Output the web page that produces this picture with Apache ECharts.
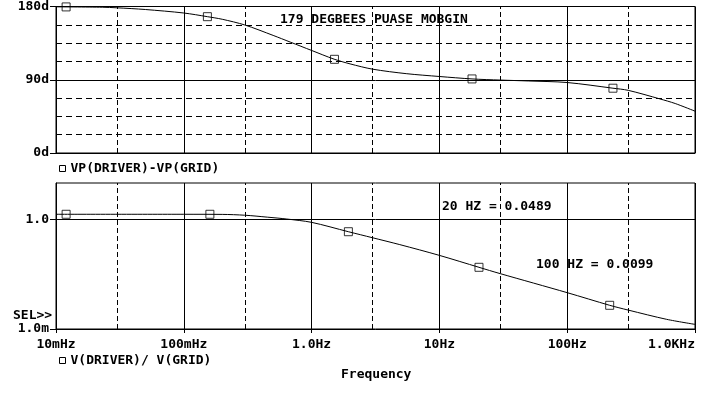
<!DOCTYPE html>
<html>
<head>
<meta charset="utf-8">
<script src="https://cdn.jsdelivr.net/npm/echarts@6/dist/echarts.min.js"></script>
<style>html,body{margin:0;padding:0;background:#fff;}#c{width:708px;height:394px;}</style>
</head>
<body>
<div id="c"></div>
<script>
// ---- data ----
var phaseFreq = [0.01, 0.023, 0.03, 0.05, 0.1, 0.153, 0.2, 0.3, 0.5, 0.68, 1.0, 1.5, 2.0, 3.0, 5.5, 10, 18, 30, 50, 100, 228, 300, 530, 700, 1000];
var phaseDeg  = [179.6, 179.1, 178.4, 176.3, 172.0, 167.5, 164.3, 157.3, 144.5, 136.3, 126.0, 115.3, 109.5, 103.0, 97.5, 94.0, 91.0, 89.6, 88.5, 86.6, 79.6, 77.0, 66.5, 60.8, 51.4];
var phaseMarkFreq = [0.012, 0.153, 1.51, 18, 228];
var phaseMarkDeg  = [179.5, 167.5, 115.1, 91.0, 79.6];

var gainFreq = [0.01, 0.1, 0.2, 0.3, 0.45, 0.64, 1.0, 1.94, 2.98, 4.9, 10, 20.4, 29.8, 100, 215, 300, 600, 1000];
var gainVal  = [1.39, 1.39, 1.38, 1.31, 1.16, 1.03, 0.835, 0.463, 0.318, 0.205, 0.104, 0.049, 0.033, 0.0099, 0.00446, 0.0033, 0.00184, 0.00134];
var gainMarkFreq = [0.012, 0.16, 1.94, 20.4, 215];
var gainMarkVal  = [1.39, 1.39, 0.463, 0.049, 0.00446];

var xTickLabels = ['10mHz', '100mHz', '1.0Hz', '10Hz', '100Hz', '1.0KHz'];
var xDashedAt = [0.03, 0.3, 3, 30, 300];
var phaseTickValues = [0, 90, 180];
var phaseTickLabels = ['0d', '90d', '180d'];
var gainTickValues = [0.001, 1];
var gainTickLabels = ['1.0m', '1.0'];

var phaseName = 'VP(DRIVER)-VP(GRID)';
var gainName = 'V(DRIVER)/ V(GRID)';
var notes = {
  title: '179 DEGBEES PUASE MOBGIN',
  n20: '20 HZ = 0.0489',
  n100: '100 HZ = 0.0099',
  sel: 'SEL>>',
  xname: 'Frequency'
};

// ---- chart ----
var FONT = 'DejaVu Sans Mono';
var txt = {fontFamily: FONT, fontWeight: 'bold', fontSize: 13, color: '#000'};
function zip(a, b) { return a.map(function (v, i) { return [v, b[i]]; }); }
function xLabel(v) { var i = Math.round(Math.log10(v)) + 2; return xTickLabels[i] || ''; }
var dashX = {type: [5, 3], color: '#000', width: 1};
var dashY = {type: [6, 4], color: '#000', width: 1};
var GFONT = 'bold 13px "DejaVu Sans Mono"';

var chart = echarts.init(document.getElementById('c'), null, {renderer: 'canvas'});
chart.setOption({
  animation: false,
  backgroundColor: '#fff',
  grid: [
    {left: 56, right: 13, top: 6, height: 147, show: true, borderColor: '#000', borderWidth: 1, backgroundColor: '#fff'},
    {left: 56, right: 13, top: 183, height: 146, show: true, borderColor: '#000', borderWidth: 1, backgroundColor: '#fff'}
  ],
  xAxis: [
    {type: 'log', logBase: 10, min: 0.01, max: 1000, gridIndex: 0,
     axisLine: {show: true, lineStyle: {color: '#000'}}, axisTick: {show: false}, axisLabel: {show: false},
     splitLine: {show: true, lineStyle: {color: '#000', width: 1}}},
    {type: 'log', logBase: 10, min: 0.01, max: 1000, gridIndex: 1,
     axisLine: {show: true, lineStyle: {color: '#000'}},
     axisTick: {show: true, length: 4, lineStyle: {color: '#000'}},
     axisLabel: Object.assign({show: true, margin: 9, formatter: xLabel, alignMaxLabel: 'right'}, txt),
     splitLine: {show: true, lineStyle: {color: '#000', width: 1}}}
  ],
  yAxis: [
    {type: 'value', min: 0, max: 180, interval: 90, gridIndex: 0,
     axisLine: {show: true, lineStyle: {color: '#000'}},
     axisTick: {show: true, length: 6, lineStyle: {color: '#000'}},
     axisLabel: Object.assign({margin: 7, formatter: function (v) { var i = phaseTickValues.indexOf(v); return i >= 0 ? phaseTickLabels[i] : ''; }}, txt),
     splitLine: {show: true, lineStyle: {color: '#000', width: 1}},
     minorTick: {show: false, splitNumber: 4},
     minorSplitLine: {show: true, lineStyle: dashY}},
    {type: 'log', logBase: 10, min: 0.001, max: 10, gridIndex: 1,
     axisLine: {show: true, lineStyle: {color: '#000'}},
     axisTick: {show: true, length: 6, lineStyle: {color: '#000'}, customValues: gainTickValues},
     axisLabel: Object.assign({margin: 7, customValues: gainTickValues, formatter: function (v) {
        for (var i = 0; i < gainTickValues.length; i++) { if (Math.abs(Math.log10(v) - Math.log10(gainTickValues[i])) < 1e-6) return gainTickLabels[i]; }
        return ''; }}, txt),
     splitLine: {show: true, lineStyle: dashY}}
  ],
  legend: [
    {data: [phaseName], left: 59, top: 162, padding: 0, icon: 'rect', itemWidth: 6, itemHeight: 6, itemGap: 5,
     textStyle: txt, itemStyle: {color: '#fff', borderColor: '#000', borderWidth: 1}, selectedMode: false},
    {data: [gainName], left: 59, top: 354, padding: 0, icon: 'rect', itemWidth: 6, itemHeight: 6, itemGap: 5,
     textStyle: txt, itemStyle: {color: '#fff', borderColor: '#000', borderWidth: 1}, selectedMode: false}
  ],
  graphic: [
    {type: 'text', left: 280, top: 13, z: 100, style: {text: notes.title, font: GFONT, fill: '#000'}},
    {type: 'text', left: 442, top: 200, z: 100, style: {text: notes.n20, font: GFONT, fill: '#000'}},
    {type: 'text', left: 536, top: 258, z: 100, style: {text: notes.n100, font: GFONT, fill: '#000'}},
    {type: 'text', left: 13, top: 309, z: 100, style: {text: notes.sel, font: GFONT, fill: '#000'}},
    {type: 'text', left: 341, top: 368, z: 100, style: {text: notes.xname, font: GFONT, fill: '#000'}}
  ],
  series: [
    {name: phaseName, type: 'line', xAxisIndex: 0, yAxisIndex: 0, data: zip(phaseFreq, phaseDeg),
     smooth: 0.3, showSymbol: false, symbol: 'none', lineStyle: {color: '#000', width: 1}, itemStyle: {color: '#000'},
     markLine: {silent: true, symbol: 'none', label: {show: false}, lineStyle: dashX,
       data: xDashedAt.map(function (v) { return {xAxis: v}; })}},
    {name: phaseName, type: 'scatter', xAxisIndex: 0, yAxisIndex: 0, data: zip(phaseMarkFreq, phaseMarkDeg),
     symbol: 'rect', symbolSize: 8, itemStyle: {color: 'rgba(255,255,255,0)', borderColor: '#000', borderWidth: 1}, z: 5},
    {name: gainName, type: 'line', xAxisIndex: 1, yAxisIndex: 1, data: zip(gainFreq, gainVal),
     smooth: 0.3, showSymbol: false, symbol: 'none', lineStyle: {color: '#000', width: 1}, itemStyle: {color: '#000'},
     markLine: {silent: true, symbol: 'none', label: {show: false},
       data: xDashedAt.map(function (v) { return {xAxis: v, lineStyle: dashX}; })
             .concat([{yAxis: 1, lineStyle: {type: 'solid', color: '#000', width: 1}}])}},
    {name: gainName, type: 'scatter', xAxisIndex: 1, yAxisIndex: 1, data: zip(gainMarkFreq, gainMarkVal),
     symbol: 'rect', symbolSize: 8, itemStyle: {color: 'rgba(255,255,255,0)', borderColor: '#000', borderWidth: 1}, z: 5}
  ]
});
</script>
</body>
</html>
